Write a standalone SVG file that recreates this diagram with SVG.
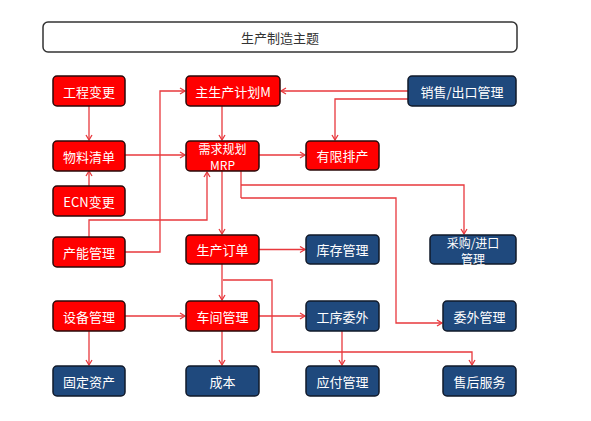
<svg xmlns="http://www.w3.org/2000/svg" width="591" height="421" viewBox="0 0 591 421">
<style>
.r{fill:#ff0000;stroke:#2a0a0a;stroke-width:1.5}
.b{fill:#1f497d;stroke:#111a2a;stroke-width:1.5}
.t{fill:#fff;font-family:"Noto Sans CJK SC","Liberation Sans",sans-serif;font-size:13px;text-anchor:middle;dominant-baseline:central}
.s{font-size:12px}
.c{fill:none;stroke:#e8383d;stroke-width:1.3}
</style>
<defs>
<marker id="a" markerWidth="8" markerHeight="8" refX="6" refY="4" orient="auto" markerUnits="userSpaceOnUse">
<path d="M1,1 L6,4 L1,7" fill="none" stroke="#e8383d" stroke-width="1.3"/>
</marker>
</defs>
<rect width="591" height="421" fill="#fff"/>
<g id="title">
<rect x="43" y="22" width="474" height="30" rx="5" fill="#fff" stroke="#333" stroke-width="1.5"/>
<text x="280" y="37" class="t" style="fill:#333">生产制造主题</text>
</g>
<g id="connectors">
<path class="c" d="M89,106 V140" marker-end="url(#a)"/>
<path class="c" d="M89,186 V171" marker-end="url(#a)"/>
<path class="c" d="M125,155 H185" marker-end="url(#a)"/>
<path class="c" d="M222,106 V140" marker-end="url(#a)"/>
<path class="c" d="M125,252 H160 V91 H185" marker-end="url(#a)"/>
<path class="c" d="M89,237 V220 H207 V172" marker-end="url(#a)"/>
<path class="c" d="M408,91 H281" marker-end="url(#a)"/>
<path class="c" d="M408,99 H335 V140" marker-end="url(#a)"/>
<path class="c" d="M259,155 H305" marker-end="url(#a)"/>
<path class="c" d="M241,171 V198"/>
<path class="c" d="M241,185 H464 V234" marker-end="url(#a)"/>
<path class="c" d="M241,198 H396 V323 H442" marker-end="url(#a)"/>
<path class="c" d="M222,171 V234" marker-end="url(#a)"/>
<path class="c" d="M259,249.5 H305" marker-end="url(#a)"/>
<path class="c" d="M222,264 V300" marker-end="url(#a)"/>
<path class="c" d="M223,280 H272 V352 H472 V365" marker-end="url(#a)"/>
<path class="c" d="M125,316 H185" marker-end="url(#a)"/>
<path class="c" d="M89,331 V365" marker-end="url(#a)"/>
<path class="c" d="M259,316 H305" marker-end="url(#a)"/>
<path class="c" d="M222,331 V365" marker-end="url(#a)"/>
<path class="c" d="M342,331 V365" marker-end="url(#a)"/>
</g>
<g id="gcbg"><rect class="r" x="53" y="76" width="72" height="30" rx="4"/><text class="t" x="89" y="91">工程变更</text></g>
<g id="wlqd"><rect class="r" x="53" y="141" width="72" height="30" rx="4"/><text class="t" x="89" y="156">物料清单</text></g>
<g id="ecn"><rect class="r" x="53" y="186" width="72" height="30" rx="4"/><text class="t" x="89" y="201">ECN变更</text></g>
<g id="cngl"><rect class="r" x="53" y="237" width="72" height="30" rx="4"/><text class="t" x="89" y="252">产能管理</text></g>
<g id="sbgl"><rect class="r" x="53" y="301" width="72" height="30" rx="4"/><text class="t" x="89" y="316">设备管理</text></g>
<g id="gdzc"><rect class="b" x="53" y="366" width="72" height="30" rx="4"/><text class="t" x="89" y="381">固定资产</text></g>
<g id="zscjh"><rect class="r" x="186" y="76" width="94" height="30" rx="4"/><text class="t" x="233" y="91">主生产计划M</text></g>
<g id="mrp"><rect class="r" x="186" y="141" width="73" height="30" rx="4"/><text class="t s"><tspan x="222.5" y="148">需求规划</tspan><tspan x="222.5" y="164">MRP</tspan></text></g>
<g id="scdd"><rect class="r" x="186" y="235" width="73" height="29" rx="4"/><text class="t" x="222.5" y="249.5">生产订单</text></g>
<g id="cjgl"><rect class="r" x="186" y="301" width="73" height="30" rx="4"/><text class="t" x="222.5" y="316">车间管理</text></g>
<g id="cb"><rect class="b" x="186" y="366" width="73" height="30" rx="4"/><text class="t" x="222.5" y="381">成本</text></g>
<g id="xsck"><rect class="b" x="408" y="76" width="108" height="30" rx="4"/><text class="t" x="462" y="91">销售/出口管理</text></g>
<g id="yxpc"><rect class="r" x="306" y="141" width="73" height="29" rx="4"/><text class="t" x="342.5" y="155.5">有限排产</text></g>
<g id="kcgl"><rect class="b" x="306" y="235" width="73" height="29" rx="4"/><text class="t" x="342.5" y="249.5">库存管理</text></g>
<g id="cgjk"><rect class="b" x="430" y="235" width="86" height="29" rx="4"/><text class="t s"><tspan x="473" y="241.5">采购/进口</tspan><tspan x="473" y="257.5">管理</tspan></text></g>
<g id="gxww"><rect class="b" x="306" y="301" width="73" height="30" rx="4"/><text class="t" x="342.5" y="316">工序委外</text></g>
<g id="wwgl"><rect class="b" x="443" y="301" width="73" height="30" rx="4"/><text class="t" x="479.5" y="316">委外管理</text></g>
<g id="yfgl"><rect class="b" x="306" y="366" width="73" height="30" rx="4"/><text class="t" x="342.5" y="381">应付管理</text></g>
<g id="shfw"><rect class="b" x="443" y="366" width="73" height="30" rx="4"/><text class="t" x="479.5" y="381">售后服务</text></g>
</svg>
